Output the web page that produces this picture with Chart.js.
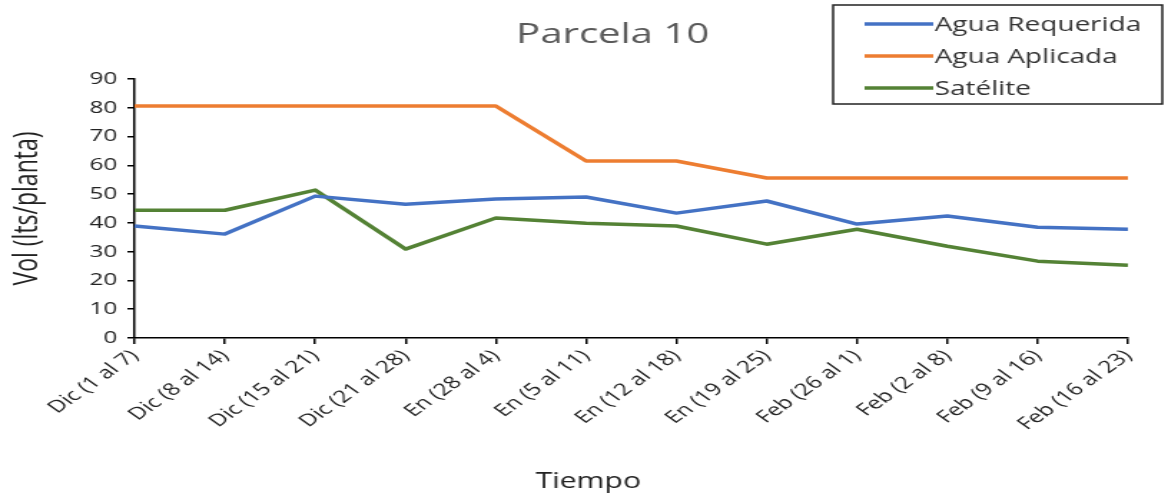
<!DOCTYPE html>
<html>
<head>
<meta charset="utf-8">
<script src="https://cdn.jsdelivr.net/npm/chart.js@4"></script>
<style>
  html, body { margin: 0; padding: 0; background: #fff; overflow: hidden; }
  /* the original picture is stretched sideways, so the canvas is drawn narrow and widened here */
  #wrap { width: 816px; height: 498px; transform: scale(1.4314, 1); transform-origin: 0 0; }
</style>
</head>
<body>
<div id="wrap"><canvas id="chart" width="816" height="498"></canvas></div>
<script>
// week labels
const weeks = ['Dic (1 al 7)', 'Dic (8 al 14)', 'Dic (15 al 21)', 'Dic (21 al 28)', 'En (28 al 4)', 'En (5 al 11)',
    'En (12 al 18)', 'En (19 al 25)', 'Feb (26 al 1)', 'Feb (2 al 8)', 'Feb (9 al 16)', 'Feb (16 al 23)'];
const aguaRequerida = [38.9, 36.1, 49.3, 46.5, 48.3, 49.0, 43.4, 47.6, 39.6, 42.4, 38.5, 37.8];
const aguaAplicada = [80.6, 80.6, 80.6, 80.6, 80.6, 61.5, 61.5, 55.6, 55.6, 55.6, 55.6, 55.6];
const satelite = [44.4, 44.4, 51.4, 30.9, 41.7, 39.9, 38.9, 32.6, 37.8, 31.9, 26.7, 25.3];
const yTicks = { min: 0, max: 90, step: 10 };

const FONT = '"Open Sans", "Noto Sans", sans-serif';

// title, x title and boxed legend drawn by hand (they sit off-centre in the original)
const overlayPlugin = {
    id: 'overlay',
    afterDraw(chart) {
        const ctx = chart.ctx;
        ctx.save();
        ctx.textBaseline = 'middle';
        ctx.textAlign = 'center';
        ctx.fillStyle = '#595959';
        ctx.font = '28px ' + FONT;
        ctx.fillText('Parcela 10', 428, 35);

        ctx.fillStyle = '#222';
        ctx.font = '21px ' + FONT;
        ctx.fillText('Tiempo', 411, 482);

        ctx.strokeStyle = '#222';
        ctx.lineWidth = 1.5;
        ctx.strokeRect(582, 5, 230, 99);
        ctx.font = '19.5px ' + FONT;
        ctx.textAlign = 'left';
        chart.data.datasets.forEach((ds, i) => {
            const y = 24 + i * 32;
            ctx.strokeStyle = ds.borderColor;
            ctx.lineWidth = 3.5;
            ctx.beginPath();
            ctx.moveTo(604, y);
            ctx.lineTo(652, y);
            ctx.stroke();
            ctx.fillStyle = '#333';
            ctx.fillText(ds.label, 653, y + 1);
        });
        ctx.restore();
    }
};

new Chart(document.getElementById('chart').getContext('2d'), {
    type: 'line',
    data: {
        labels: weeks,
        datasets: [
            { label: 'Agua Requerida', data: aguaRequerida, borderColor: '#4472C4' },
            { label: 'Agua Aplicada', data: aguaAplicada, borderColor: '#ED7D31' },
            { label: 'Satélite', data: satelite, borderColor: '#548235' }
        ]
    },
    options: {
        responsive: false,
        devicePixelRatio: 1,
        animation: { duration: 0 },
        layout: { padding: { top: 79, right: 28, left: 0, bottom: 0 } },
        elements: {
            line: { borderWidth: 3.5, tension: 0, borderJoinStyle: 'round' },
            point: { radius: 0 }
        },
        plugins: {
            legend: { display: false },
            title: { display: false },
            tooltip: { enabled: false }
        },
        scales: {
            x: {
                offset: false,
                afterFit(scale) { scale.height = 160; },
                border: { color: '#000', width: 1.5 },
                grid: { display: true, drawOnChartArea: false, drawTicks: true, tickLength: 6, color: '#000', lineWidth: 1.5 },
                ticks: { minRotation: 45, maxRotation: 45, autoSkip: false, color: '#222', padding: 2, font: { family: FONT, size: 17 } }
            },
            y: {
                min: yTicks.min,
                max: yTicks.max,
                afterFit(scale) { scale.width = 94; },
                border: { color: '#000', width: 1.5 },
                grid: { display: true, drawOnChartArea: false, drawTicks: true, tickLength: 5, color: '#000', lineWidth: 1.5 },
                ticks: { stepSize: yTicks.step, color: '#222', padding: 7, font: { family: FONT, size: 17 } },
                title: { display: true, text: 'Vol (lts/planta)', color: '#222', font: { family: FONT, size: 23 }, padding: { top: 6, bottom: 0 } }
            }
        }
    },
    plugins: [overlayPlugin]
});
</script>
</body>
</html>
